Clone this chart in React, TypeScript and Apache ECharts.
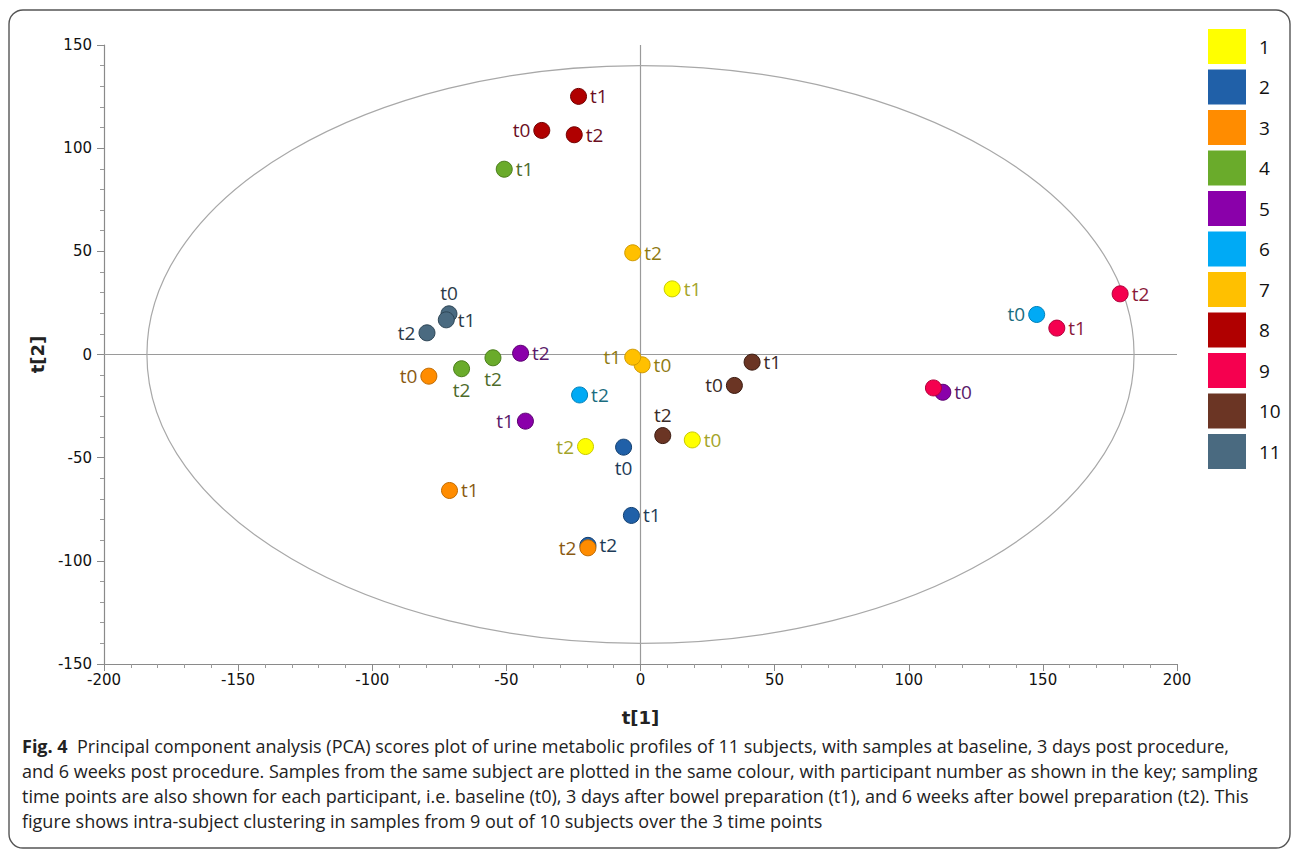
import React, { useEffect, useRef } from "react";
import * as echarts from "echarts";

// ---- data ----
const subjects = ["1", "2", "3", "4", "5", "6", "7", "8", "9", "10", "11"];
const colors = ["#ffff00", "#2060a8", "#ff8c00", "#6aab2b", "#8a00aa", "#00aaf5", "#ffc000", "#b00000", "#f5004f", "#6b3524", "#4a6a80"];
const borderColors = ["#c8c800", "#123f70", "#c06a00", "#4a7d1a", "#5a0070", "#0080b8", "#d09a00", "#700000", "#b0003a", "#3a1a10", "#2d4555"];
const labelColors = ["#a4a42a", "#1d3b57", "#8a5a12", "#4d6b2a", "#5a1a6a", "#1b6d80", "#8f7a12", "#6b0f1f", "#8a1a3a", "#3a2b28", "#2d3b48"];

const s1 = [[19.3, -41.4], [11.8, 31.8], [-20.5, -44.6]];
const s2 = [[-6.3, -44.9], [-3.4, -78.0], [-19.6, -92.5]];
const s3 = [[-78.9, -10.5], [-71.2, -65.9], [-19.6, -93.7]];
const s4 = [[-50.8, 89.8], [-66.7, -6.9], [-55.0, -1.6]];
const s5 = [[112.7, -18.3], [-42.9, -32.3], [-44.7, 0.6]];
const s6 = [[147.7, 19.4], [-22.7, -19.6]];
const s7 = [[0.6, -5.0], [-2.9, -1.3], [-2.9, 49.3]];
const s8 = [[-36.8, 108.6], [-23.1, 125.1], [-24.7, 106.5]];
const s9 = [[109.2, -16.2], [155.2, 12.8], [178.8, 29.4]];
const s10 = [[35.0, -15.0], [41.6, -3.7], [8.3, -39.3]];
const s11 = [[-71.4, 19.7], [-72.4, 16.8], [-79.6, 10.5]];
const seriesValues = [s1, s2, s3, s4, s5, s6, s7, s8, s9, s10, s11];

const pointLabels = [
  ["t0", "t1", "t2"],
  ["t0", "t1", "t2"],
  ["t0", "t1", "t2"],
  ["t1", "t2", "t2"],
  ["t0", "t1", "t2"],
  ["t0", "t2"],
  ["t0", "t1", "t2"],
  ["t0", "t1", "t2"],
  ["", "t1", "t2"],
  ["t0", "t1", "t2"],
  ["t0", "t1", "t2"],
];
const labelPositions = [
  ["right", "right", "left"],
  ["bottom", "right", "right"],
  ["left", "right", "left"],
  ["right", "bottom", "bottom"],
  ["right", "left", "right"],
  ["left", "right"],
  ["right", "left", "right"],
  ["left", "right", "right"],
  ["right", "right", "right"],
  ["left", "right", "top"],
  ["top", "right", "left"],
];

const xTicks = { min: -200, max: 200, interval: 50 };
const yTicks = { min: -150, max: 150, interval: 50 };
const ellipseRadii = [184, 140];

const captionLines = [
  "Principal component analysis (PCA) scores plot of urine metabolic profiles of 11 subjects, with samples at baseline, 3 days post procedure,",
  "and 6 weeks post procedure. Samples from the same subject are plotted in the same colour, with participant number as shown in the key; sampling",
  "time points are also shown for each participant, i.e. baseline (t0), 3 days after bowel preparation (t1), and 6 weeks after bowel preparation (t2). This",
  "figure shows intra-subject clustering in samples from 9 out of 10 subjects over the 3 time points",
];

export default function App() {
  const ref = useRef<HTMLDivElement>(null);
  useEffect(() => {
    if (!ref.current) return;
    const chart = echarts.init(ref.current, null, { renderer: "svg" });

    const scatterSeries: any[] = subjects.map((name, i) => ({
      name,
      type: "scatter",
      symbol: "circle",
      symbolSize: 16,
      z: 3,
      itemStyle: { color: colors[i], borderColor: borderColors[i], borderWidth: 1, opacity: 1 },
      label: {
        show: true,
        formatter: "{b}",
        color: labelColors[i],
        fontSize: 19,
        fontFamily: "Open Sans",
        distance: 3,
      },
      data: seriesValues[i].map((v, j) => ({
        value: v,
        name: pointLabels[i][j],
        label: { position: labelPositions[i][j] },
      })),
    }));

    scatterSeries[0].markLine = {
      silent: true,
      symbol: ["none", "none"],
      label: { show: false },
      lineStyle: { color: "#9a9a9a", type: "solid", width: 1.2 },
      data: [{ yAxis: 0 }, { xAxis: 0 }],
      z: 1,
    };

    const ellipseSeries = {
      type: "custom",
      silent: true,
      clip: false,
      z: 1,
      data: [[0, 0]],
      renderItem: (params: any, api: any) => {
        const c = api.coord([0, 0]);
        const s = api.size([ellipseRadii[0], ellipseRadii[1]]);
        return {
          type: "ellipse",
          shape: { cx: c[0], cy: c[1], rx: s[0], ry: s[1] },
          style: { fill: "none", stroke: "#a8a8a8", lineWidth: 1.2 },
        };
      },
    };

    const axisCommon = {
      axisLine: { show: true, onZero: false, lineStyle: { color: "#8a8a8a", width: 1.2 } },
      axisTick: { show: true, inside: false, length: 7, lineStyle: { color: "#8a8a8a" } },
      minorTick: { show: true, splitNumber: 5, length: 4, lineStyle: { color: "#9a9a9a" } },
      splitLine: { show: false },
      axisLabel: { color: "#111", fontSize: 15, fontFamily: "DejaVu Sans" },
      nameTextStyle: { color: "#222", fontSize: 18, fontWeight: "bold", fontFamily: "DejaVu Sans" },
    };

    const option: any = {
      animation: false,
      backgroundColor: "#fff",
      grid: { left: 104, right: 116, top: 45, bottom: 188, containLabel: false },
      xAxis: {
        type: "value",
        ...xTicks,
        ...axisCommon,
        name: "t[1]",
        nameLocation: "middle",
        nameGap: 44,
      },
      yAxis: {
        type: "value",
        ...yTicks,
        ...axisCommon,
        axisLabel: { ...axisCommon.axisLabel, margin: 12 },
        name: "t[2]",
        nameLocation: "middle",
        nameGap: 58,
        nameRotate: 90,
      },
      legend: {
        orient: "vertical",
        left: 1203,
        top: 24,
        icon: "rect",
        itemWidth: 38,
        itemHeight: 35,
        itemGap: 5.5,
        data: subjects,
        itemStyle: { borderWidth: 0 },
        textStyle: { color: "#111", fontSize: 19, fontFamily: "Open Sans", padding: [0, 0, 0, 8] },
        selectedMode: false,
      },
      graphic: [
        {
          type: "rect",
          silent: true,
          shape: { x: 9, y: 10, width: 1281, height: 838, r: 14 },
          style: { fill: "none", stroke: "#555", lineWidth: 1.4 },
          z: -1,
        },
        ...captionLines.map((line, k) => ({
          type: "text",
          silent: true,
          left: 22,
          top: 737 + k * 25,
          style: {
            text: k === 0 ? "{b|Fig. 4}  " + line : line,
            rich: { b: { fontWeight: "bold", fontSize: 18, fontFamily: "Open Sans", fill: "#222" } },
            fontSize: 18,
            fontFamily: "Open Sans",
            fill: "#222",
          },
        })),
      ],
      series: [ellipseSeries, ...scatterSeries],
    };

    chart.setOption(option);
    return () => chart.dispose();
  }, []);

  return <div ref={ref} style={{ position: "fixed", left: 0, top: 0, width: 1293, height: 852 }} />;
}
